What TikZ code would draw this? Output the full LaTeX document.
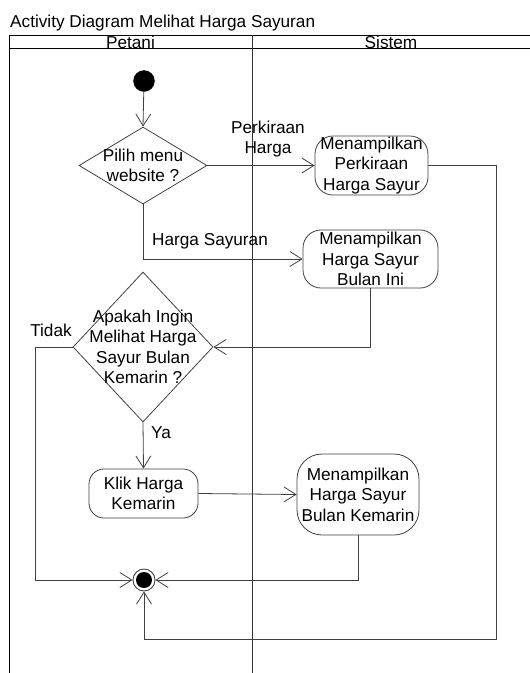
\documentclass[tikz,border=0pt]{standalone}
\usepackage{fontspec}
\setmainfont{Liberation Sans}
\usetikzlibrary{shapes.geometric,arrows.meta}
\begin{document}
\begin{tikzpicture}[x=1pt,y=-1pt,
  every node/.style={font=\fontsize{17.2}{20.5}\selectfont},
  ln/.style={draw=black!75,line width=0.8pt},
  conn/.style={ln,-{Straight Barb[length=12pt,width=15pt,line width=0.8pt]}},
  dia/.style={ln,diamond,inner sep=0pt,minimum width=#1},
  act/.style={ln,rectangle,rounded corners=18pt,inner sep=0pt,align=center},
  txt/.style={inner sep=0pt,align=center},
  lbl/.style={inner sep=0pt,align=center}]
\useasboundingbox (0,0) rectangle (530,673);
% title and swimlanes
\node[anchor=base west,inner sep=0pt] (title) at (10,27) {Activity Diagram Melihat Harga Sayuran};
\draw[black,line width=0.8pt] (530,35) -- (9,35) -- (9,673);
\draw[black,line width=0.8pt] (9,48) -- (530,48);
\draw[black!80,line width=0.8pt] (252,35) -- (252,673);
\node[anchor=base,inner sep=0pt] (lane1) at (130.5,48) {Petani};
\node[anchor=base,inner sep=0pt] (lane2) at (391,48) {Sistem};
% nodes
\node[circle,fill=black,draw=black,minimum size=21pt,inner sep=0pt] (start) at (144,81) {};
\node[dia,minimum width=128pt,minimum height=77pt] (d1) at (143,165.5) {};
\node[txt] (d1t) at (d1) {Pilih menu\\website ?};
\node[act,minimum width=113pt,minimum height=59pt] (a1) at (371.5,165.5) {Menampilkan\\Perkiraan\\Harga Sayur};
\node[act,minimum width=135pt,minimum height=58pt] (a2) at (370.5,259) {Menampilkan\\Harga Sayur\\Bulan Ini};
\node[dia,minimum width=140pt,minimum height=150pt] (d2) at (143,347) {};
\node[txt] (d2t) at (d2) {Apakah Ingin\\Melihat Harga\\Sayur Bulan\\Kemarin ?};
\node[act,rounded corners=15pt,minimum width=109pt,minimum height=49pt] (klik) at (143.5,493.5) {Klik Harga\\Kemarin};
\node[act,rounded corners=25pt,minimum width=122pt,minimum height=81pt] (a3) at (358,494.5) {Menampilkan\\Harga Sayur\\Bulan Kemarin};
\node[circle,draw=black!80,line width=0.8pt,minimum size=22pt,inner sep=0pt] (fin) at (144,580) {};
\node[circle,fill=black,minimum size=16pt,inner sep=0pt] (finin) at (fin) {};
\coordinate (c1) at (496,639);
\coordinate (c2) at (35,580);
% connectors
\draw[conn] (start) -- (d1.north);
\draw[conn] (d1.east) -- (a1.west);
\draw[conn] (a1.east) -| (c1) -| (fin.south);
\draw[conn] (d1.south) |- (a2.west);
\draw[conn] (a2.south) |- (d2.east);
\draw[conn] (d2.west) -| (c2) -- (fin.west);
\draw[conn] (d2.south) -- (klik.north);
\draw[conn] (klik.east) -- (a3.west);
\draw[conn] (a3.south) |- (fin.east);
% labels
\node[lbl] (l1) at (268,139) {Perkiraan\\Harga};
\node[lbl,anchor=west] (l2) at (152,241) {Harga Sayuran};
\node[lbl] (l3) at (51,330) {Tidak};
\node[lbl] (l4) at (161,433) {Ya};
\end{tikzpicture}
\end{document}
